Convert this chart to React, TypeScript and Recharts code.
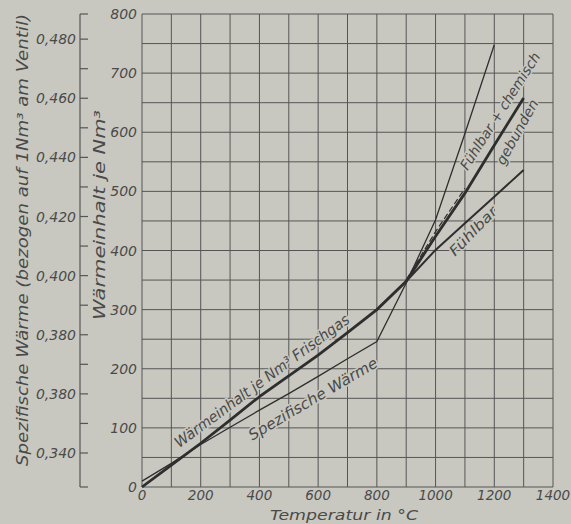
import React from 'react';
import { ComposedChart, Line, XAxis, YAxis, CartesianGrid } from 'recharts';

// ---- data ----
const temperatures = [0, 100, 200, 300, 400, 500, 600, 700, 800, 900, 1000, 1100, 1200, 1300];
// Wärmeinhalt je Nm³ Frischgas (continues as "fühlbar + chemisch gebunden")
const waermeinhalt = [0, 37, 74, 113, 153, 188, 223, 261, 300, 348, 424, 497, 578, 658];
// fühlbar
const fuehlbar = [null, null, null, null, null, null, null, null, null, 348, 401, 446, 491, 536];
// dashed companion line
const gestrichelt = [null, null, null, null, null, null, null, null, null, 350, 432, 505, null, null];
// Spezifische Wärme (secondary axis)
const spezWaerme = [0.3305, 0.3365, 0.3429, 0.3487, 0.3545, 0.3601, 0.3659, 0.3719, 0.3777, 0.3975, 0.4189, 0.4481, 0.4781, null];

const xTicks = [0, 100, 200, 300, 400, 500, 600, 700, 800, 900, 1000, 1100, 1200, 1300, 1400];
const xTickLabels: Record<string, string> = {
  '0': '0', '200': '200', '400': '400', '600': '600', '800': '800',
  '1000': '1000', '1200': '1200', '1400': '1400',
};
const yTicks = [0, 50, 100, 150, 200, 250, 300, 350, 400, 450, 500, 550, 600, 650, 700, 750, 800];
const yTickLabels: Record<string, string> = {
  '0': '0', '100': '100', '200': '200', '300': '300', '400': '400',
  '500': '500', '600': '600', '700': '700', '800': '800',
};
const spezDomain = [0.3285, 0.4885];
const spezTicks = [0.3285, 0.34, 0.35, 0.36, 0.37, 0.38, 0.39, 0.40, 0.41, 0.42, 0.43, 0.44, 0.45, 0.46, 0.47, 0.48, 0.4885];
const spezTickLabels: Record<string, string> = {
  '0.340': '0,340', '0.360': '0,380', '0.380': '0,380', '0.400': '0,400',
  '0.420': '0,420', '0.440': '0,440', '0.460': '0,460', '0.480': '0,480',
};

const data = temperatures.map((t, i) => ({
  t,
  waermeinhalt: waermeinhalt[i],
  fuehlbar: fuehlbar[i],
  gestrichelt: gestrichelt[i],
  spez: spezWaerme[i],
}));

// ---- styles ----
const BG = '#c8c8c0';
const INK = '#2e2e2e';
const TEXT = '#4a4a4a';
const GRID = '#555555';
const FONT = '"DejaVu Sans", "Liberation Sans", sans-serif';

const XTick = (props: any) => {
  const { x, payload } = props;
  const label = xTickLabels[String(payload.value)];
  if (!label) return <g />;
  return (
    <text x={x} y={500} textAnchor="middle" fontFamily={FONT} fontStyle="italic" fontSize={13.5} fill={TEXT}>
      {label}
    </text>
  );
};

const YTick = (props: any) => {
  const { y, payload } = props;
  const label = yTickLabels[String(payload.value)];
  if (!label) return <g />;
  return (
    <text x={137} y={y + 5} textAnchor="end" fontFamily={FONT} fontStyle="italic" fontSize={14} fill={TEXT}>
      {label}
    </text>
  );
};

const SpezTick = (props: any) => {
  const { y, payload } = props;
  const label = spezTickLabels[Number(payload.value).toFixed(3)];
  return (
    <g>
      <line x1={80} x2={88} y1={y} y2={y} stroke={GRID} strokeWidth={1.2} />
      {label ? (
        <text x={76} y={y + 5} textAnchor="end" fontFamily={FONT} fontStyle="italic" fontSize={14} fill={TEXT}>
          {label}
        </text>
      ) : null}
    </g>
  );
};

const halo = { paintOrder: 'stroke' as any, stroke: BG, strokeWidth: 3 };

export default function App() {
  return (
    <div style={{ position: 'absolute', left: 0, top: 0, width: 571, height: 524, background: BG, overflow: 'hidden' }}>
      <ComposedChart
        width={571}
        height={524}
        data={data}
        margin={{ top: 14, right: 18, bottom: 0, left: 0 }}
      >
        <CartesianGrid yAxisId="p" stroke={GRID} strokeWidth={1} horizontal vertical />
        <XAxis
          dataKey="t"
          type="number"
          domain={[0, 1400]}
          ticks={xTicks}
          interval={0}
          height={37}
          axisLine={false}
          tickLine={false}
          tick={<XTick />}
        />
        <YAxis
          yAxisId="p"
          type="number"
          domain={[0, 800]}
          ticks={yTicks}
          interval={0}
          width={62}
          axisLine={false}
          tickLine={false}
          tick={<YTick />}
        />
        <YAxis
          yAxisId="s"
          type="number"
          domain={spezDomain}
          ticks={spezTicks}
          interval={0}
          width={80}
          allowDataOverflow
          axisLine={{ stroke: GRID, strokeWidth: 1.2 }}
          tickLine={false}
          tick={<SpezTick />}
        />
        <Line yAxisId="s" dataKey="spez" type="linear" stroke={INK} strokeWidth={1.3} dot={false} isAnimationActive={false} />
        <Line yAxisId="p" dataKey="gestrichelt" type="linear" stroke={INK} strokeWidth={1.2} strokeDasharray="6 3" dot={false} isAnimationActive={false} />
        <Line yAxisId="p" dataKey="fuehlbar" type="linear" stroke={INK} strokeWidth={2} dot={false} isAnimationActive={false} />
        <Line yAxisId="p" dataKey="waermeinhalt" type="linear" stroke={INK} strokeWidth={2.8} dot={false} isAnimationActive={false} />
      </ComposedChart>
      <svg width={571} height={524} style={{ position: 'absolute', left: 0, top: 0, pointerEvents: 'none' }}>
        <g fontFamily={FONT} fontStyle="italic" fill={TEXT}>
          <text x={23} y={240} fontSize={15} textAnchor="middle" dominantBaseline="central"
            transform="rotate(-90 23 240)" textLength={452} lengthAdjust="spacingAndGlyphs">
            Spezifische Wärme (bezogen auf 1Nm³ am Ventil)
          </text>
          <text x={100} y={215} fontSize={15} textAnchor="middle" dominantBaseline="central"
            transform="rotate(-90 100 215)" textLength={210} lengthAdjust="spacingAndGlyphs">
            Wärmeinhalt je Nm³
          </text>
          <text x={344} y={515} fontSize={14} textAnchor="middle" dominantBaseline="central"
            textLength={148} lengthAdjust="spacingAndGlyphs">
            Temperatur in °C
          </text>
          <text x={262} y={381} fontSize={15} textAnchor="middle" dominantBaseline="central"
            transform="rotate(-36.4 262 381)" textLength={213} lengthAdjust="spacingAndGlyphs" {...halo}>
            Wärmeinhalt je Nm³ Frischgas
          </text>
          <text x={313} y={399} fontSize={15} textAnchor="middle" dominantBaseline="central"
            transform="rotate(-30.6 313 399)" textLength={147} lengthAdjust="spacingAndGlyphs" {...halo}>
            Spezifische Wärme
          </text>
          <text x={500} y={111} fontSize={14} textAnchor="middle" dominantBaseline="central"
            transform="rotate(-57.4 500 111)" textLength={136} lengthAdjust="spacingAndGlyphs" {...halo}>
            Fühlbar + chemisch
          </text>
          <text x={517} y={132} fontSize={14} textAnchor="middle" dominantBaseline="central"
            transform="rotate(-61 517 132)" textLength={72} lengthAdjust="spacingAndGlyphs" {...halo}>
            gebunden
          </text>
          <text x={473} y={231} fontSize={14} textAnchor="middle" dominantBaseline="central"
            transform="rotate(-46 473 231)" textLength={62} lengthAdjust="spacingAndGlyphs" {...halo}>
            Fühlbar
          </text>
        </g>
      </svg>
    </div>
  );
}
